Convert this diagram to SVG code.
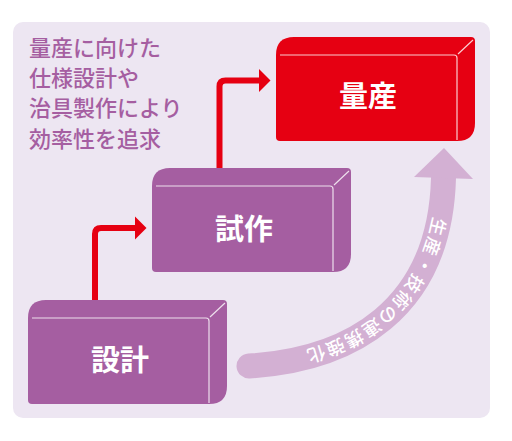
<svg xmlns="http://www.w3.org/2000/svg" xmlns:xlink="http://www.w3.org/1999/xlink" width="512" height="441" viewBox="0 0 512 441">
<style>
.note{font-family:"Noto Sans CJK JP","Noto Sans CJK SC",sans-serif;font-size:22px;font-weight:500;fill:#a55ea1}
.lbl{font-family:"Noto Sans CJK JP","Noto Sans CJK SC",sans-serif;font-size:29px;font-weight:700;fill:#ffffff;text-anchor:middle}
.curve{font-family:"Noto Sans CJK JP","Noto Sans CJK SC",sans-serif;font-size:18px;font-weight:500;fill:#ffffff;letter-spacing:2.6px}
.hl{fill:none;stroke:#ffffff;stroke-opacity:0.8;stroke-width:1.2}
.flow{fill:none;stroke:#e60012;stroke-width:6;stroke-linejoin:round}
</style>
<defs>
<path id="box" d="M0,18 Q0,0 18,0 H195 Q199,0 199,4 V86 Q199,104 181,104 H4 Q0,104 0,100 Z"/>
<path id="boxhl" d="M4,18 H178 Q181,18 181,21 V103 M182,17 L197,3"/>
<path id="arc" d="M443.5,178 C440,310 350,360 249,366"/>
</defs>
<rect x="13" y="22" width="477" height="396" rx="10" fill="#ede6f2"/>
<g id="note">
<text class="note" x="29" y="56">量産に向けた</text>
<text class="note" x="29" y="86">仕様設計や</text>
<text class="note" x="29" y="116">治具製作により</text>
<text class="note" x="29" y="147">効率性を追求</text>
</g>
<g id="connectors">
<path class="flow" d="M95,300 V234 Q95,228 101,228 H137"/>
<path fill="#e60012" d="M135,216.5 L146.5,228 L135,239.5 Z"/>
<path class="flow" d="M219.5,168 V86.5 Q219.5,80.5 225.5,80.5 H261"/>
<path fill="#e60012" d="M259,69 L270.5,80.5 L259,92 Z"/>
<path d="M249,366 C350,360 440,310 443.5,178" fill="none" stroke="#d3b0d3" stroke-width="25" stroke-linecap="round"/>
<path d="M444,148 L414,177 L473,179 Z" fill="#d3b0d3"/>
<text class="curve" dy="6.5"><textPath xlink:href="#arc" href="#arc" startOffset="40">生産・技術の連携強化</textPath></text>
</g>
<g id="node-design" transform="translate(28,300)">
<use href="#box" xlink:href="#box" fill="#a55ea1"/>
<use href="#boxhl" xlink:href="#boxhl" class="hl"/>
<text class="lbl" x="92" y="71">設計</text>
</g>
<g id="node-prototype" transform="translate(152,168)">
<use href="#box" xlink:href="#box" fill="#a55ea1"/>
<use href="#boxhl" xlink:href="#boxhl" class="hl"/>
<text class="lbl" x="92" y="72">試作</text>
</g>
<g id="node-mass" transform="translate(276,37)">
<use href="#box" xlink:href="#box" fill="#e60012"/>
<use href="#boxhl" xlink:href="#boxhl" class="hl"/>
<text class="lbl" x="92" y="70">量産</text>
</g>
</svg>
